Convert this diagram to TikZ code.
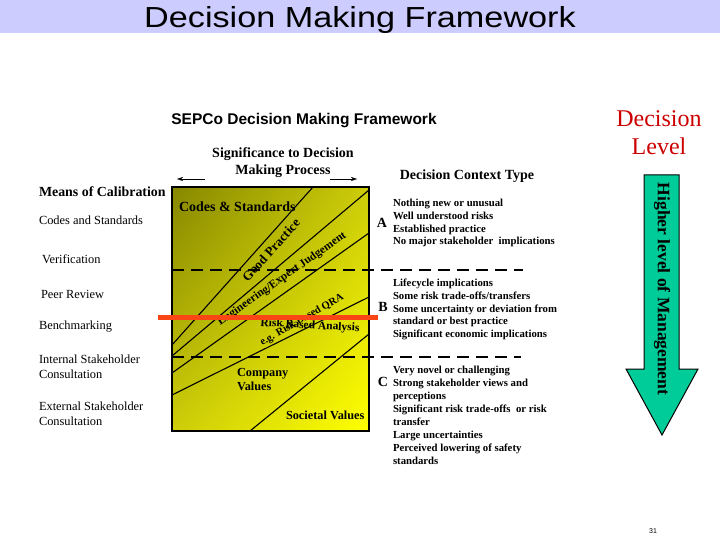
\documentclass[tikz,border=0pt]{standalone}
\usepackage{fontspec}
\usepackage{graphicx}
\setmainfont{Liberation Serif}
\newfontfamily\arialfont{Liberation Sans}
\usetikzlibrary{arrows.meta, positioning, shadings}

\definecolor{barblue}{RGB}{204,204,255}
\definecolor{darkolive}{RGB}{135,135,0}
\definecolor{midolive}{RGB}{205,205,10}
\definecolor{brightyellow}{RGB}{255,255,0}
\definecolor{levelred}{RGB}{204,0,0}
\definecolor{arrowgreen}{RGB}{0,204,153}
\definecolor{markred}{RGB}{250,70,20}

\begin{document}
\begin{tikzpicture}[x=1pt, y=-1pt, every node/.style={inner sep=0pt, outer sep=0pt},
    calib/.style={anchor=west, align=left, font=\fontsize{12.4}{15}\selectfont},
    context/.style={anchor=west, align=left, font=\bfseries\fontsize{10.75}{12.9}\selectfont},
    band/.style={font=\bfseries\fontsize{12.3}{14}\selectfont},
    letter/.style={font=\bfseries\fontsize{14}{16}\selectfont},
    sepline/.style={line width=2.5pt, dash pattern=on 12pt off 7pt}]
        \useasboundingbox (0,0) rectangle (720,540);

        % title bar
        \fill[barblue] (0,0) rectangle (720,33);
        \node (title) [anchor=base] at (360,28) {\scalebox{1.18}[1]{\arialfont\fontsize{29}{34}\selectfont Decision Making Framework}};
        \node (sepco) at (304,121) {\arialfont\bfseries\fontsize{15.5}{18}\selectfont SEPCo Decision Making Framework};
        \node (signif) [align=center, font=\bfseries\fontsize{14}{17}\selectfont] at (283,163) {Significance to Decision\\Making Process};
        \node (ctxtype) [font=\bfseries\fontsize{14}{16}\selectfont] at (467,176) {Decision Context Type};

        % means of calibration
        \node[calib, font=\bfseries\fontsize{13.9}{16}\selectfont] (means) at (39,192) {Means of Calibration};
        \node[calib] (codes) at (39,220) {Codes and Standards};
        \node[calib] (verif) at (42,259) {Verification};
        \node[calib] (peer) at (41,294) {Peer Review};
        \node[calib] (bench) at (39,327) {Benchmarking};
        \node[calib] (intern) at (39,367) {Internal Stakeholder\\Consultation};
        \node[calib] (extern) at (39,414) {External Stakeholder\\Consultation};

        % shaded frame
        \node (frame) [anchor=north west, minimum width=197pt, minimum height=244pt,
            upper left=darkolive, upper right=midolive, lower left=midolive, lower right=brightyellow] at (172,187) {};
        \draw[line width=1.1pt] (313,187) -- (172,345);
        \draw[line width=1.1pt] (369,190) -- (172,356);
        \draw[line width=1.1pt] (369,233) -- (172,373);
        \draw[line width=1.1pt] (369,297) -- (172,395);
        \draw[line width=1.1pt] (369,334) -- (250,431);
        \draw[line width=1.8pt] (frame.north west) rectangle (frame.south east);

        \node[band, anchor=west, font=\bfseries\fontsize{14}{16}\selectfont] (cands) at (179,207) {Codes \& Standards};
        \node[band, font=\bfseries\fontsize{13}{15}\selectfont, rotate=48] (good) at (271,250) {Good Practice};
        \node[band, font=\bfseries\fontsize{11.5}{14}\selectfont, rotate=35] (engin) at (282,279) {Engineering/Expert Judgement};
        \node[band, font=\bfseries\fontsize{10.5}{13}\selectfont, rotate=30] (qra) at (302,320) {e.g. Risk Based QRA};
        \node[band, font=\bfseries\fontsize{11.5}{13}\selectfont, rotate=-3] (rba) at (310,326) {Risk Based Analysis};
        \node[band, anchor=west, align=left] (company) at (237,380) {Company\\Values};
        \node[band, anchor=west] (societal) at (286,415) {Societal Values};

        % significance arrows
        \coordinate (sigl1) at (205,179);
        \coordinate (sigl2) at (177,179);
        \coordinate (sigr1) at (330,179);
        \coordinate (sigr2) at (357,179);
        \draw[-{Stealth[length=6pt, width=4pt]}] (sigl1) -- (sigl2);
        \draw[-{Stealth[length=6pt, width=4pt]}] (sigr1) -- (sigr2);

        % decision context types
        \node[letter] (la) at (382,223) {A};
        \node[letter] (lb) at (383,307) {B};
        \node[letter] (lc) at (383,382) {C};
        \node[context] (ctxa) at (393,223) {Nothing new or unusual\\Well understood risks\\Established practice\\No major stakeholder\ \ implications};
        \node[context] (ctxb) at (393,309.5) {Lifecycle implications\\Some risk trade-offs/transfers\\Some uncertainty or deviation from\\standard or best practice\\Significant economic implications};
        \node[context, font=\bfseries\fontsize{10.75}{13}\selectfont] (ctxc) at (393,415.5) {Very novel or challenging\\Strong stakeholder views and\\perceptions\\Significant risk trade-offs\ \ or risk\\transfer\\Large uncertainties\\Perceived lowering of safety\\standards};

        \coordinate (sepa1) at (172,270);
        \coordinate (sepa2) at (523,270);
        \coordinate (sepb1) at (172,357);
        \coordinate (sepb2) at (521,357);
        \draw[sepline] (sepa1) -- (sepa2);
        \draw[sepline] (sepb1) -- (sepb2);

        % decision level
        \node (level) [align=center, text=levelred, font=\fontsize{24}{28}\selectfont] at (659,133) {Decision\\Level};
        \draw[fill=arrowgreen, line width=1pt] (644,175) -- (679,175) -- (679,369) -- (698,369) -- (662,435) -- (626,369) -- (644,369) -- cycle;
        \node (higher) [rotate=-90, font=\bfseries\fontsize{17.5}{19}\selectfont] at (662,289) {Higher level of Management};

        % marker
        \coordinate (mark1) at (158,317);
        \coordinate (mark2) at (378,317);
        \draw[markred, line width=5pt] (mark1) -- (mark2);

        \node (page) [font=\arialfont\fontsize{7}{8}\selectfont] at (653,531) {31};
    \end{tikzpicture}
\end{document}
